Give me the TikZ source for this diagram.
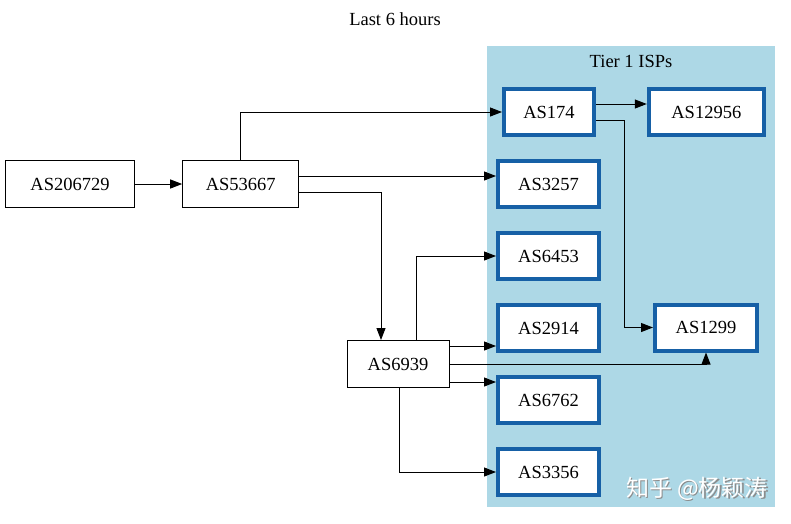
\documentclass[tikz,border=0pt]{standalone}
\usepackage{fontspec}
\setmainfont{Liberation Serif}
\newfontfamily\cjk{Noto Sans CJK SC}
\usetikzlibrary{arrows.meta}
\definecolor{tierblue}{RGB}{173,216,230}
\definecolor{edgeblue}{RGB}{22,96,166}
\begin{document}
\begin{tikzpicture}[x=1pt,y=-1pt,
  every node/.style={font=\fontsize{18.5}{22}\selectfont},
  asbox/.style={draw=black,line width=1pt,fill=white,inner sep=0pt,minimum height=47pt},
  tierbox/.style={draw=edgeblue,line width=4pt,fill=white,inner sep=0pt,minimum height=46pt},
  arr/.style={-{Triangle[length=12pt,width=9pt]},line width=1pt,black}]
\useasboundingbox (0,0) rectangle (791,523);
\fill[white] (0,0) rectangle (791,523);
% cluster
\fill[tierblue] (487,46) rectangle (775,507);
\node (tiertitle) at (631,61) {Tier 1 ISPs};
\node (title) at (395,19) {Last 6 hours};
% plain nodes
\node[asbox,minimum width=129pt] (AS206729) at (70,184) {AS206729};
\node[asbox,minimum width=116pt] (AS53667) at (240.7,184) {AS53667};
\node[asbox,minimum width=102pt] (AS6939) at (398,364) {AS6939};
% tier nodes
\node[tierbox,minimum width=90pt] (AS174) at (549,112) {AS174};
\node[tierbox,minimum width=115pt] (AS12956) at (706.3,112) {AS12956};
\node[tierbox,minimum width=101pt] (AS3257) at (548.5,184) {AS3257};
\node[tierbox,minimum width=101pt] (AS6453) at (548.5,256) {AS6453};
\node[tierbox,minimum width=101pt] (AS2914) at (548.5,328) {AS2914};
\node[tierbox,minimum width=101pt] (AS6762) at (548.5,400) {AS6762};
\node[tierbox,minimum width=101pt] (AS3356) at (548.5,472) {AS3356};
\node[tierbox,minimum width=102pt] (AS1299) at (706,327.5) {AS1299};
% edges
\draw[arr] (AS206729.east) -- (AS53667.west);
\draw[arr] (AS53667.north) |- (AS174.west);
\coordinate (o3257) at ([yshift=8pt]AS53667.east);
\draw[arr] (o3257) -- (o3257 -| AS3257.west);
\draw[arr] ([yshift=-8pt]AS53667.east) -| ([xshift=-17pt]AS6939.north);
\coordinate (o12956) at ([yshift=8pt]AS174.east);
\draw[arr] (o12956) -- (o12956 -| AS12956.west);
\draw[arr] ([yshift=-8pt]AS174.east) -- ++(28.5,0) |- (AS1299.west);
\draw[arr] ([xshift=18pt]AS6939.north) |- (AS6453.west);
\coordinate (o2914) at ([yshift=18pt]AS6939.east);
\draw[arr] (o2914) -- (o2914 -| AS2914.west);
\draw[arr] (AS6939.east) -| (AS1299.south);
\coordinate (o6762) at ([yshift=-18pt]AS6939.east);
\draw[arr] (o6762) -- (o6762 -| AS6762.west);
\draw[arr] ([xshift=1pt]AS6939.south) |- (AS3356.west);
% watermark
\node[font=\cjk\fontsize{23}{26}\selectfont,text=black!45] (wmshadow) at (698.2,490.2) {知乎 @杨颖涛};
\node[font=\cjk\fontsize{23}{26}\selectfont,text=white] (wm) at (697,489) {知乎 @杨颖涛};
\end{tikzpicture}
\end{document}
